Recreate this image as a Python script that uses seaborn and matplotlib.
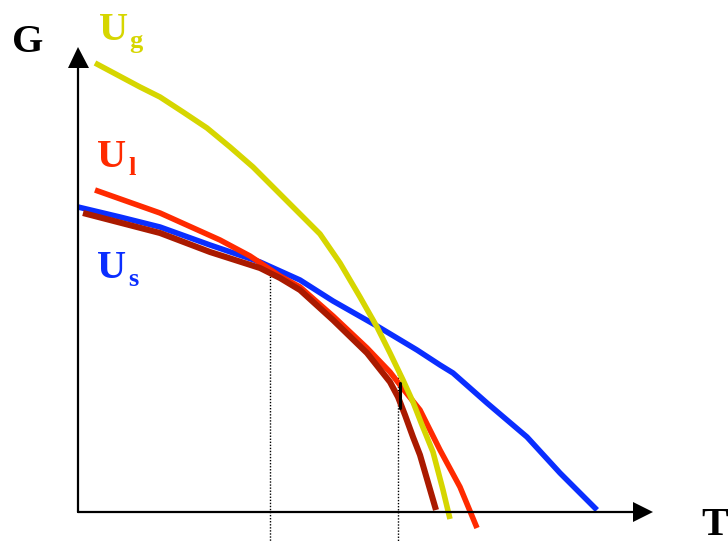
import matplotlib
matplotlib.use("Agg")
import matplotlib.pyplot as plt
import seaborn as sns
import pandas as pd

# Free energy G versus temperature T for the three phases (arbitrary units)
T_gas = [17, 62, 82, 105, 129, 152, 175, 195, 219, 242, 262, 282, 299, 312, 325, 335, 344, 355, 365, 372]
G_gas = [449, 425, 415, 400, 384, 365, 345, 325, 301, 278, 249, 215, 185, 159, 132, 110, 87, 60, 22, -7]

T_liquid = [17, 82, 142, 172, 202, 222, 255, 289, 312, 322, 342, 362, 382, 399]
G_liquid = [322, 299, 272, 256, 236, 225, 196, 164, 140, 127, 102, 62, 25, -16]

T_solid = [0, 42, 82, 132, 182, 222, 255, 299, 339, 362, 375, 409, 449, 482, 519]
G_solid = [305, 295, 285, 267, 250, 232, 211, 186, 162, 147, 139, 109, 75, 39, 2]

# Lowest free energy path (equilibrium phase)
T_min = [5, 82, 132, 182, 202, 222, 255, 289, 312, 320, 327, 335, 342, 358]
G_min = [299, 279, 260, 244, 234, 222, 192, 159, 130, 115, 97, 75, 57, 2]

# Transition temperatures and their free energies
T_trans = [192, 320]
G_trans = [242, 144]

sns.set_style("white")
plt.rcParams["font.family"] = ["Liberation Serif", "DejaVu Serif"]

W, H = 728, 542
fig = plt.figure(figsize=(W / 100, H / 100), dpi=100)
ax = fig.add_axes([0, 0, 1, 1])
ax.set_xlim(-78, 650)
ax.set_ylim(-30, 512)
ax.axis("off")

C_GAS = "#D6D600"
C_LIQ = "#FF2A00"
C_SOL = "#0A2EFF"
C_MIN = "#AA1A00"

# Dotted guides at the transition temperatures
for t, g in zip(T_trans, G_trans):
    ax.plot([t, t], [g, -30], color="black", lw=1.0, ls=(0, (1, 1.2)), zorder=1)

curves = [
    (T_solid, G_solid, C_SOL, 4.0, 2),
    (T_liquid, G_liquid, C_LIQ, 4.0, 3),
    (T_min, G_min, C_MIN, 4.4, 4),
    (T_gas, G_gas, C_GAS, 4.0, 5),
]
for t, g, c, lw, z in curves:
    df = pd.DataFrame({"T": t, "G": g})
    sns.lineplot(data=df, x="T", y="G", sort=False, estimator=None,
                 color=c, lw=lw, ax=ax, zorder=z,
                 solid_capstyle="butt", solid_joinstyle="round")

# Short black mark at the boiling point
ax.plot([T_trans[1] + 2, T_trans[1] + 2], [129, 104], color="black", lw=2.2, zorder=6)

# Axes with arrow heads
ax.plot([0, 0], [0, 444], color="black", lw=1.6, zorder=7)
ax.fill([-10, 11, 0], [444, 444, 465], color="black", zorder=7, lw=0)
ax.plot([0, 555], [0, 0], color="black", lw=1.6, zorder=7)
ax.fill([555, 555, 575], [10, -10, 0], color="black", zorder=7, lw=0)
ax.set_xlabel("")
ax.set_ylabel("")


def fpos(x, y):
    return x / W, 1 - y / H


big = dict(fontsize=29, fontweight="bold", va="baseline", ha="left")
small = dict(fontsize=19, fontweight="bold", va="baseline", ha="left")

fig.text(*fpos(12, 52), "G", color="black", **big)
fig.text(*fpos(701, 535), "T", color="black", **big)

fig.text(*fpos(99, 40), "U", color=C_GAS, **big)
fig.text(*fpos(129, 48), "g", color=C_GAS, **small)
fig.text(*fpos(97, 167), "U", color=C_LIQ, **big)
fig.text(*fpos(128, 175), "l", color=C_LIQ, **small)
fig.text(*fpos(97, 278), "U", color=C_SOL, **big)
fig.text(*fpos(128, 286), "s", color=C_SOL, **small)

fig.savefig("out.png", dpi=100)
